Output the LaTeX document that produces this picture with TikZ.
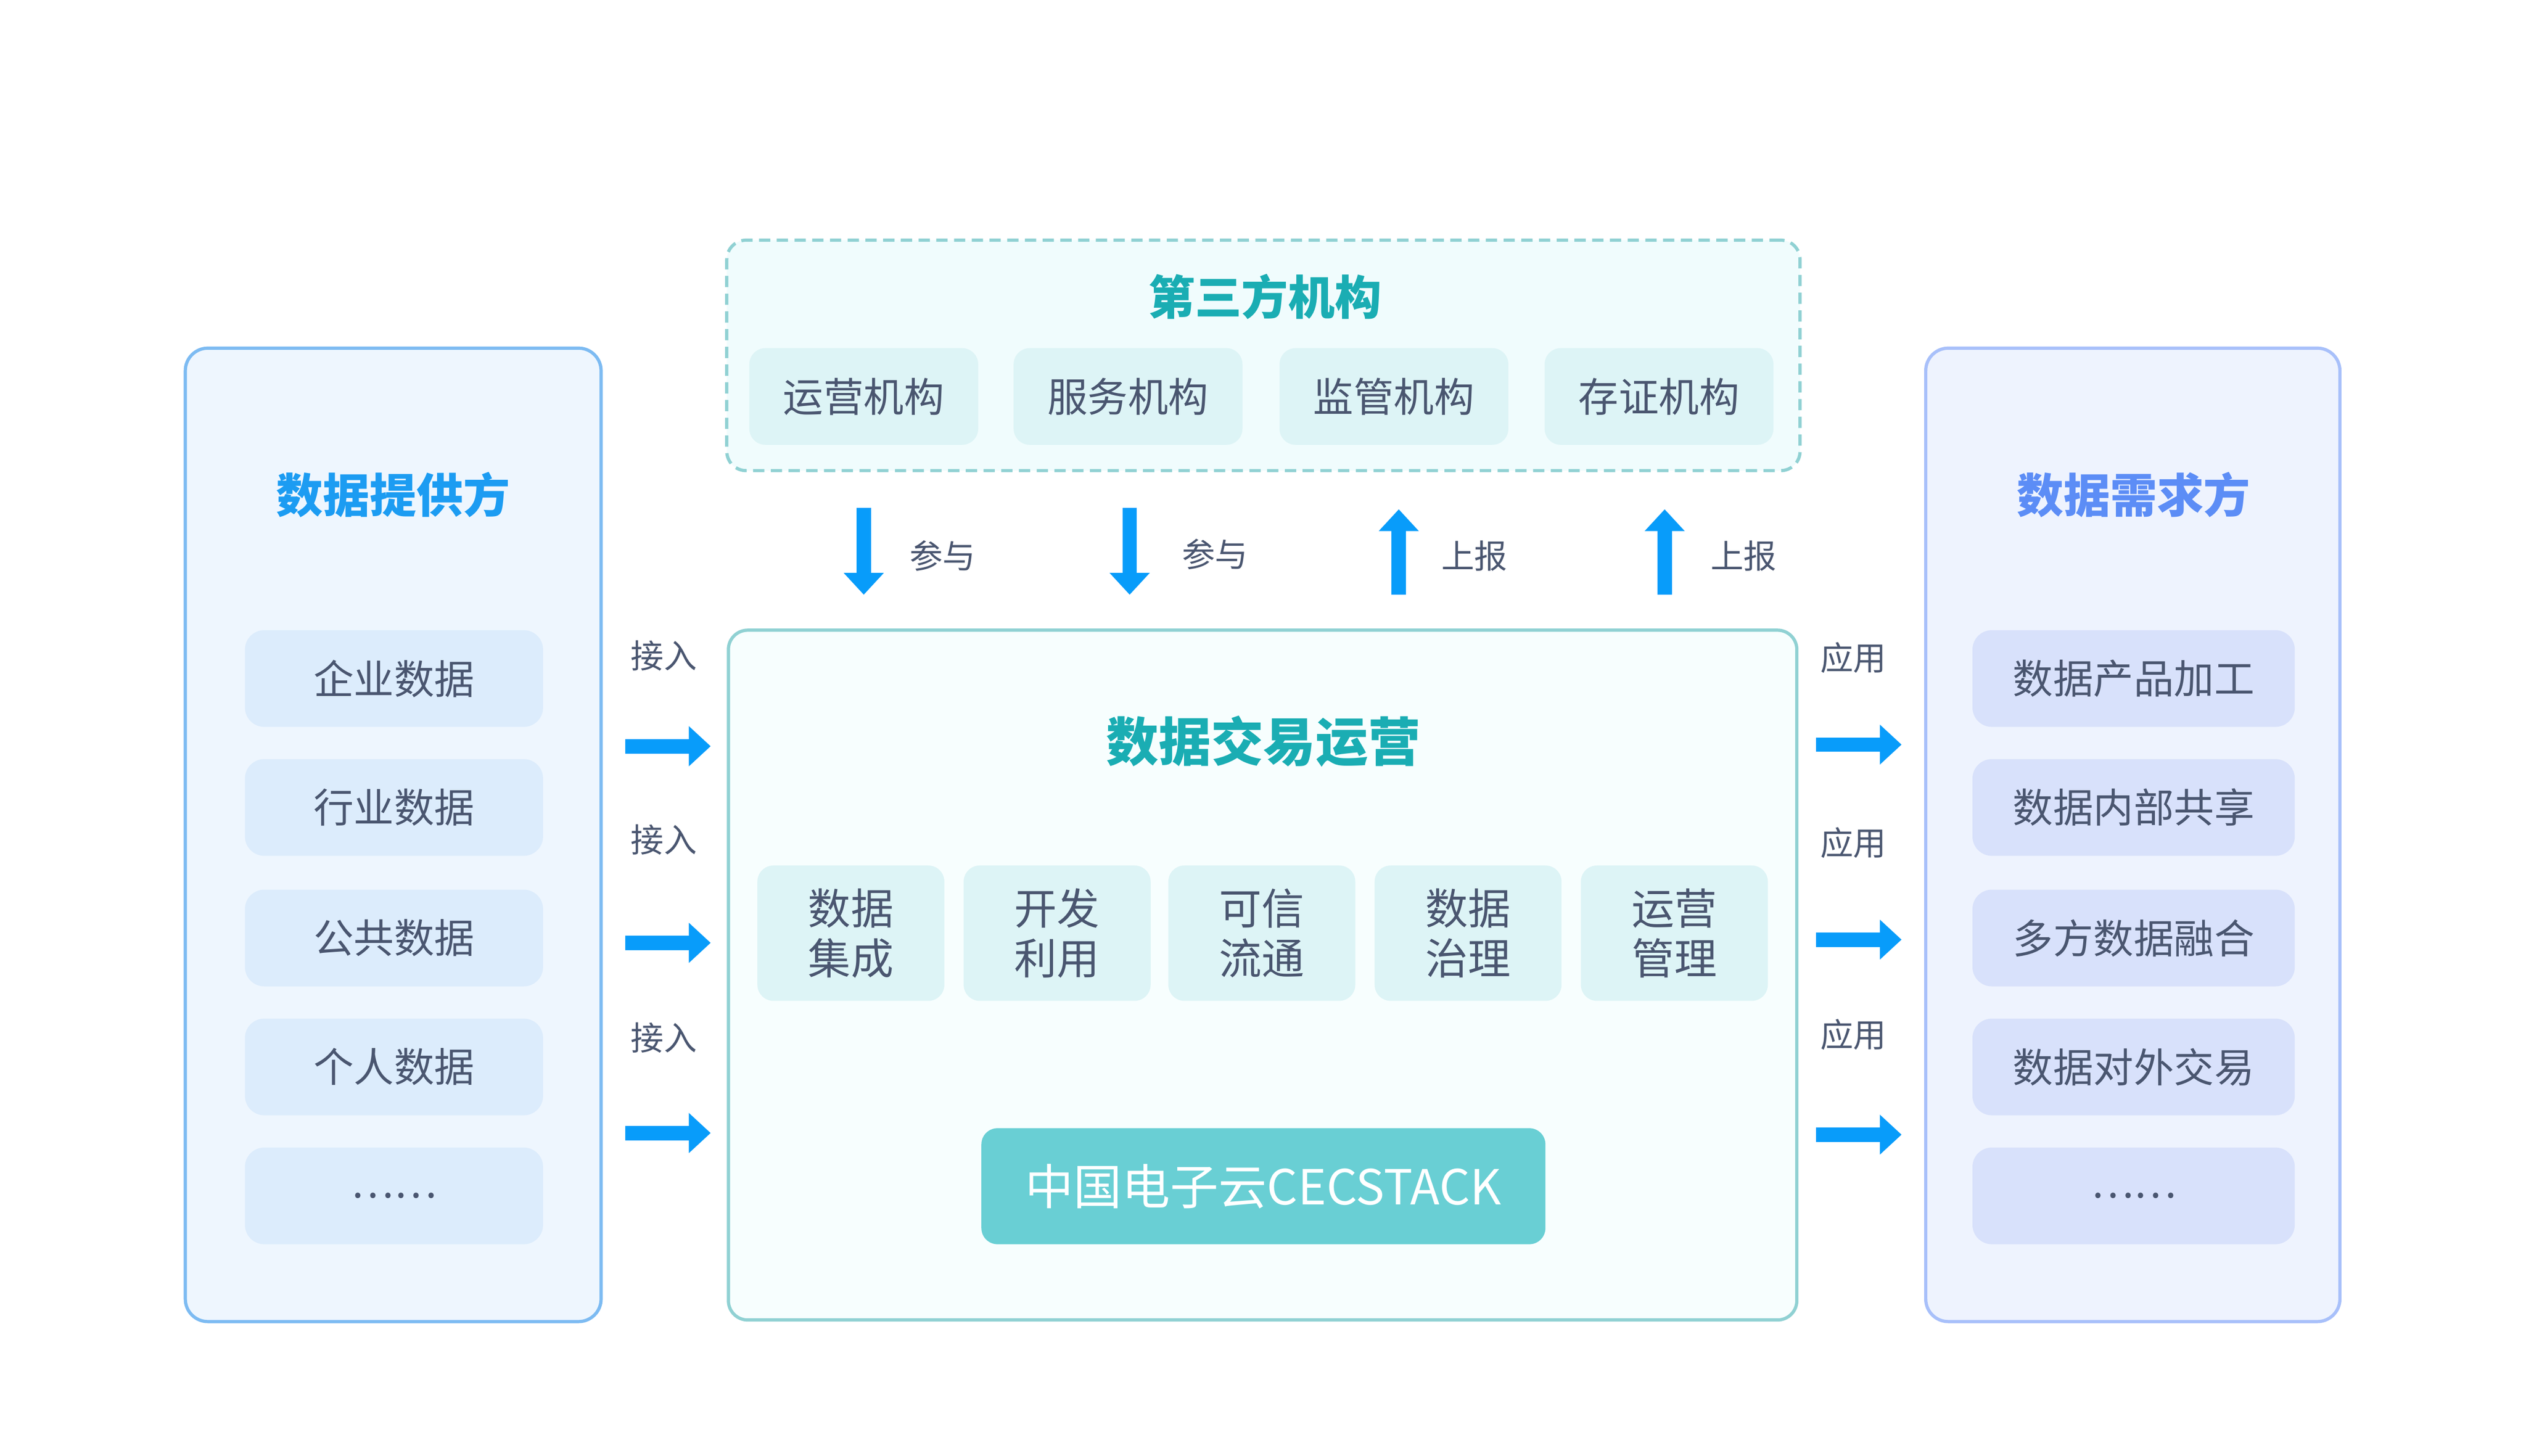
\documentclass[tikz,border=0pt]{standalone}
\usepackage{fontspec}
\setmainfont{Noto Sans CJK SC}
\usetikzlibrary{arrows.meta}
\definecolor{txt}{HTML}{4A5670}
\definecolor{lpstroke}{HTML}{7DBBF2}
\definecolor{lpfill}{HTML}{EEF6FE}
\definecolor{lptitle}{HTML}{1C9CF2}
\definecolor{litem}{HTML}{DCECFC}
\definecolor{rpstroke}{HTML}{A8C0FA}
\definecolor{rpfill}{HTML}{EEF3FE}
\definecolor{rptitle}{HTML}{5C8DF6}
\definecolor{ritem}{HTML}{D8E1FB}
\definecolor{tealstroke}{HTML}{90D1D3}
\definecolor{topfill}{HTML}{F0FCFD}
\definecolor{tealtitle}{HTML}{1AADB3}
\definecolor{titem}{HTML}{DDF4F6}
\definecolor{cfill}{HTML}{F7FEFE}
\definecolor{cloudc}{HTML}{69CFD4}
\definecolor{arrowc}{HTML}{089CFA}
\begin{document}
\begin{tikzpicture}[x=1pt,y=-1pt,
  panel/.style={draw, line width=2pt, rounded corners=14pt, inner sep=0pt},
  itembox/.style={rounded corners=12pt, inner sep=0pt, text=txt, font=\fontsize{25}{30}\selectfont},
  titletext/.style={inner sep=0pt, font=\fontsize{29}{34}\selectfont\bfseries},
  lbl/.style={inner sep=0pt, text=txt, font=\fontsize{20.5}{24}\selectfont},
  blockarrow/.style={draw=arrowc, line width=9pt, -{Triangle[width=24pt,length=13.5pt]}}
]
\useasboundingbox[fill=white] (0,0) rectangle (1567.5,903.1);
% panels
\node[panel, draw=lpstroke, fill=lpfill, minimum width=258pt, minimum height=604pt] (lp) at (244,518) {};
\node[panel, draw=rpstroke, fill=rpfill, minimum width=257pt, minimum height=604pt] (rp) at (1323.5,518) {};
\node[panel, draw=tealstroke, fill=topfill, dashed, dash pattern=on 7pt off 4pt, rounded corners=12pt, minimum width=666pt, minimum height=143pt] (tp) at (784,220.5) {};
\node[panel, draw=tealstroke, fill=cfill, rounded corners=12pt, minimum width=663pt, minimum height=428pt] (cp) at (783.5,605) {};
% titles
\node[titletext, text=lptitle] (lpt) at (244,307) {数据提供方};
\node[titletext, text=rptitle] (rpt) at (1324,307) {数据需求方};
\node[titletext, text=tealtitle] (tpt) at (785,184) {第三方机构};
\node[titletext, text=tealtitle, font=\fontsize{32.5}{38}\selectfont\bfseries] (cpt) at (784,460) {数据交易运营};
% left items
\foreach \n/\y/\t in {1/421/企业数据, 2/501/行业数据, 3/582/公共数据, 4/662/个人数据}
  \node[itembox, fill=litem, minimum width=185pt, minimum height=60pt] (li\n) at (244.5,\y) {\t};
\node[itembox, fill=litem, minimum width=185pt, minimum height=60pt] (li5) at (244.5,742) {\raisebox{-2pt}{……}};
% right items
\foreach \n/\y/\t in {1/421/数据产品加工, 2/501/数据内部共享, 3/582/多方数据融合, 4/662/数据对外交易}
  \node[itembox, fill=ritem, minimum width=200pt, minimum height=60pt] (ri\n) at (1324,\y) {\t};
\node[itembox, fill=ritem, minimum width=200pt, minimum height=60pt] (ri5) at (1324,742) {\raisebox{-2pt}{……}};
% top items
\foreach \n/\x/\t in {1/536/运营机构, 2/700/服务机构, 3/865/监管机构, 4/1029.5/存证机构}
  \node[itembox, fill=titem, rounded corners=10pt, minimum width=142pt, minimum height=60pt] (ti\n) at (\x,246) {\t};
% middle items
\foreach \n/\x/\a/\b in {1/528/数据/集成, 2/656/开发/利用, 3/783/可信/流通, 4/911/数据/治理, 5/1039/运营/管理}
  \node[itembox, fill=titem, rounded corners=10pt, minimum width=116pt, minimum height=84pt, align=center, font=\fontsize{26.5}{31}\selectfont] (mi\n) at (\x,579) {\a\\\b};
% cloud
\node[rounded corners=10pt, fill=cloudc, text=white, inner sep=0pt, minimum width=350pt, minimum height=72pt, font=\fontsize{30}{34}\selectfont] (cloud) at (784,736) {中国电子云CECSTACK};
% vertical arrows
\coordinate (v1s) at (536,315); \coordinate (v1e) at (536,369);
\coordinate (v2s) at (701,315); \coordinate (v2e) at (701,369);
\coordinate (v3s) at (868,369); \coordinate (v3e) at (868,316);
\coordinate (v4s) at (1033,369); \coordinate (v4e) at (1033,316);
\foreach \i in {1,2,3,4} \draw[blockarrow] (v\i s) -- (v\i e);
\node[lbl] (vl1) at (585,345) {参与};
\node[lbl] (vl2) at (754,344) {参与};
\node[lbl] (vl3) at (915,345) {上报};
\node[lbl] (vl4) at (1082,345) {上报};
% left arrows
\foreach \i/\y in {1/463, 2/585, 3/703} {
  \coordinate (la\i s) at (388,\y); \coordinate (la\i e) at (441,\y);
  \draw[blockarrow] (la\i s) -- (la\i e);
}
\node[lbl] (ll1) at (412,407) {接入};
\node[lbl] (ll2) at (412,521) {接入};
\node[lbl] (ll3) at (412,644) {接入};
% right arrows
\foreach \i/\y in {1/462, 2/583, 3/704} {
  \coordinate (ra\i s) at (1127,\y); \coordinate (ra\i e) at (1180,\y);
  \draw[blockarrow] (ra\i s) -- (ra\i e);
}
\node[lbl] (rl1) at (1150,408) {应用};
\node[lbl] (rl2) at (1150,523) {应用};
\node[lbl] (rl3) at (1150,642) {应用};
\end{tikzpicture}
\end{document}
